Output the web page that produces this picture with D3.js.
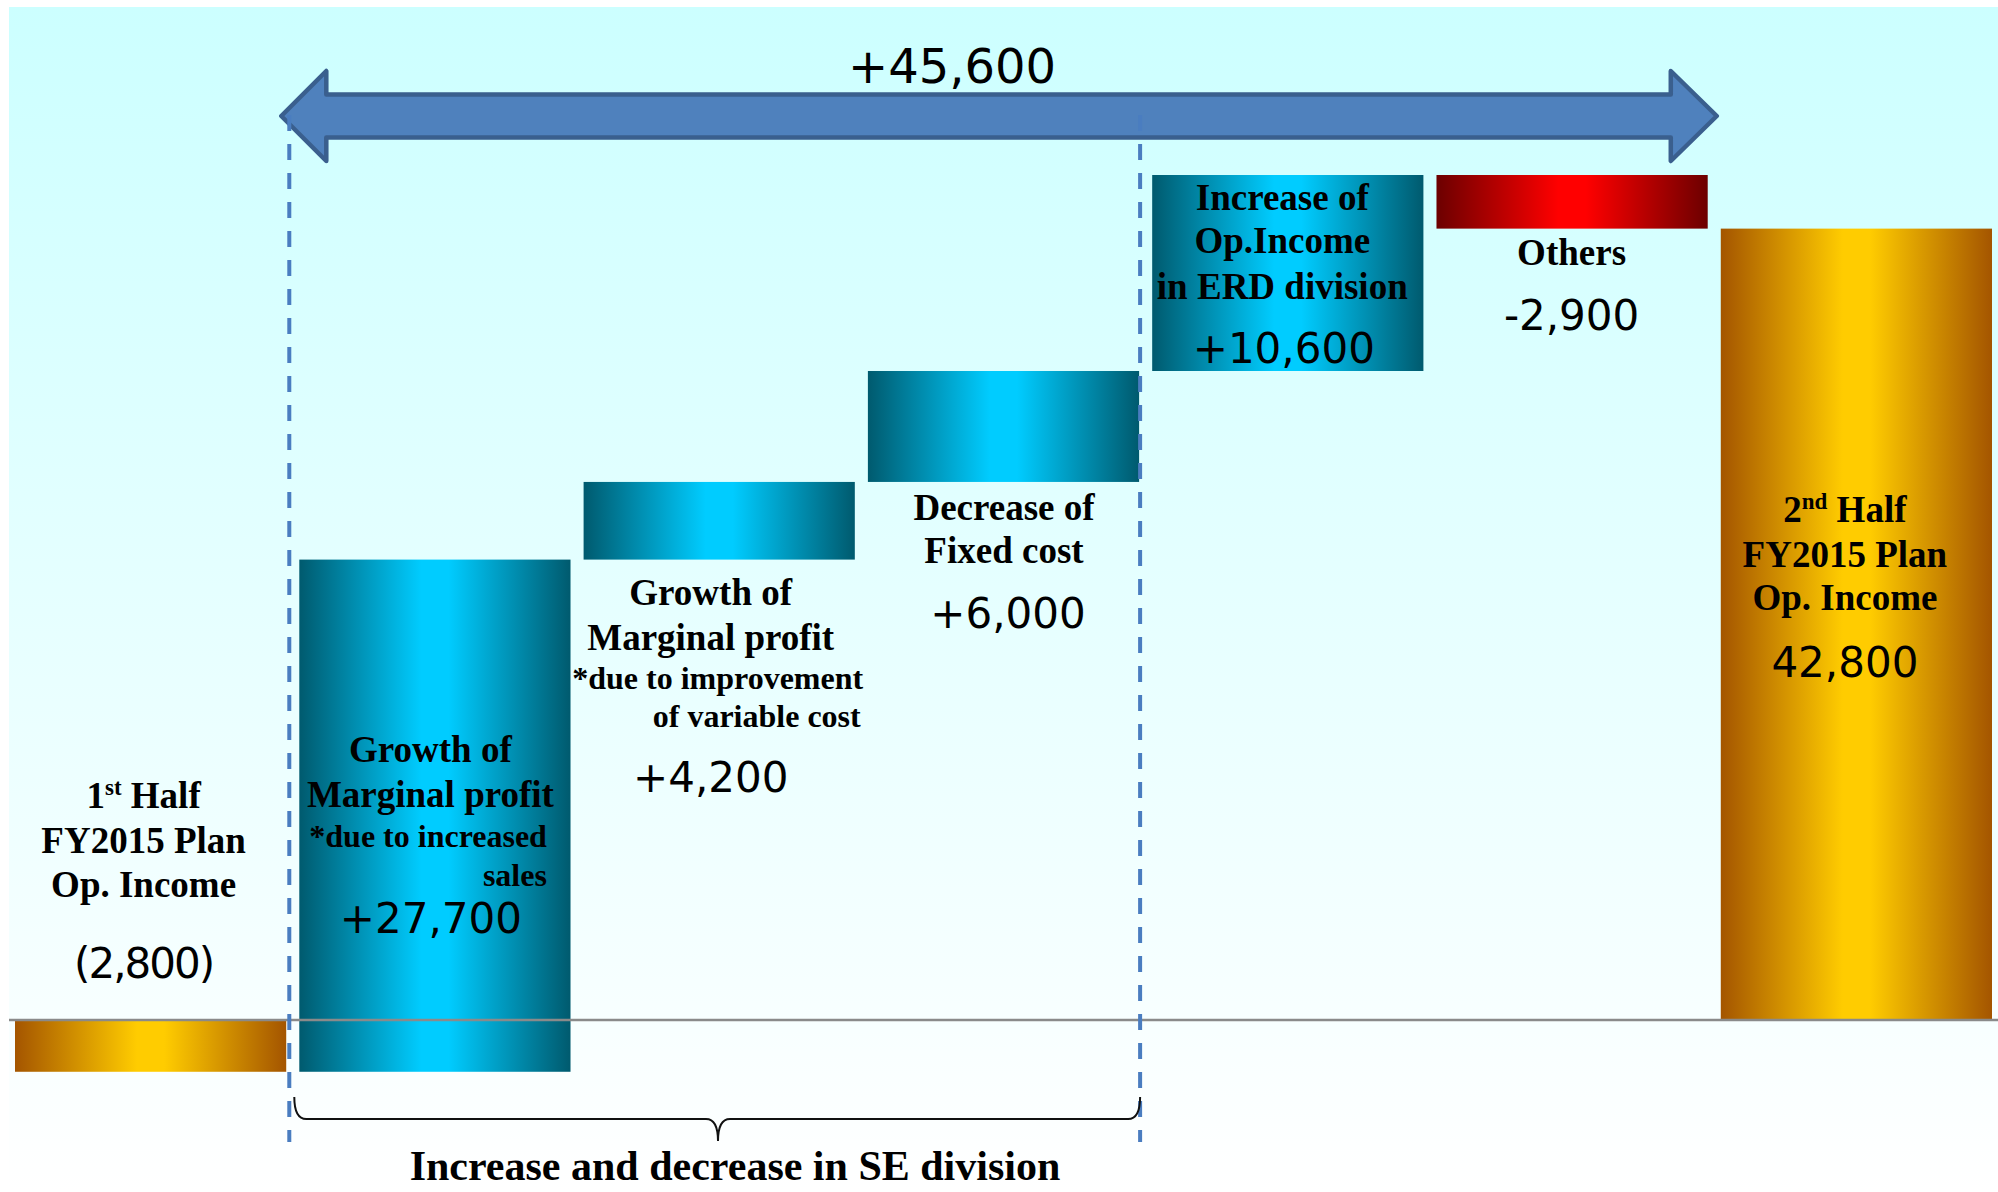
<!DOCTYPE html>
<html>
<head>
<meta charset="utf-8">
<script src="https://cdn.jsdelivr.net/npm/d3@7"></script>
<style>
  html, body { margin: 0; padding: 0; background: #ffffff; }
  svg { display: block; }
</style>
</head>
<body>
<svg id="chart" width="1998" height="1192"></svg>
<script>
// ---------------- data ----------------
const categories = [
  "1st Half FY2015 Plan Op. Income",
  "Growth of Marginal profit (increased sales)",
  "Growth of Marginal profit (variable cost)",
  "Decrease of Fixed cost",
  "Increase of Op.Income in ERD division",
  "Others",
  "2nd Half FY2015 Plan Op. Income"
];
const values = [-2800, 27700, 4200, 6000, 10600, -2900, 42800];
const barKinds = ["total", "delta", "delta", "delta", "delta", "delta", "total"];
const valueLabels = ["(2,800)", "+27,700", "+4,200", "+6,000", "+10,600", "-2,900", "42,800"];
const titleLines = [
  ["1st Half", "FY2015 Plan", "Op. Income"],
  ["Growth of", "Marginal profit"],
  ["Growth of", "Marginal profit"],
  ["Decrease of", "Fixed cost"],
  ["Increase of", "Op.Income", "in ERD division"],
  ["Others"],
  ["2nd Half", "FY2015 Plan", "Op. Income"]
];
const noteLines = [
  [],
  ["*due to increased", "sales"],
  ["*due to improvement", "of variable cost"],
  [], [], [], []
];
const spanTotal = 45600;
const spanLabel = "+45,600";
const bracketCaption = "Increase and decrease in SE division";

// ---------------- layout ----------------
const W = 1998, H = 1192;
const svg = d3.select("#chart");
const defs = svg.append("defs");

function hGrad(id, edge, mid) {
  const g = defs.append("linearGradient").attr("id", id)
    .attr("x1", "0%").attr("x2", "100%").attr("y1", "0%").attr("y2", "0%");
  [[0, edge], [0.45, mid], [0.55, mid], [1, edge]].forEach(([o, c]) =>
    g.append("stop").attr("offset", o).attr("stop-color", c));
}
hGrad("gCyan", "#005a6e", "#00ccff");
hGrad("gGold", "#a45500", "#ffcc00");
hGrad("gRed", "#6c0000", "#ff0000");

const bg = defs.append("linearGradient").attr("id", "gBg")
  .attr("x1", "0%").attr("x2", "0%").attr("y1", "0%").attr("y2", "100%");
bg.append("stop").attr("offset", 0).attr("stop-color", "#ccffff");
bg.append("stop").attr("offset", 1).attr("stop-color", "#ffffff");

svg.append("rect").attr("x", 9).attr("y", 7).attr("width", W - 9).attr("height", H - 7)
  .attr("fill", "url(#gBg)");

// scales
const x = d3.scaleBand().domain(categories).range([15, 1992]).paddingInner(0.046).paddingOuter(0);
const y = d3.scaleLinear().domain([0, 45700]).range([1020, 175]);

// waterfall computation
let running = 0;
const bars = categories.map((c, i) => {
  let start, end;
  if (barKinds[i] === "total") { start = 0; end = values[i]; }
  else { start = running; end = running + values[i]; }
  running = end;
  const fill = barKinds[i] === "total" ? "url(#gGold)" : (values[i] < 0 ? "url(#gRed)" : "url(#gCyan)");
  return { c, i, start, end, fill };
});

svg.append("g").selectAll("rect").data(bars).join("rect")
  .attr("x", d => x(d.c))
  .attr("width", x.bandwidth())
  .attr("y", d => y(Math.max(d.start, d.end)))
  .attr("height", d => Math.abs(y(d.start) - y(d.end)))
  .attr("fill", d => d.fill);

// zero baseline
svg.append("line").attr("x1", 9).attr("x2", W).attr("y1", y(0)).attr("y2", y(0))
  .attr("stroke", "#8a8a8a").attr("stroke-width", 2.5);

// span arrow
const leftDash = x(categories[1]) - 10;
const rightDash = x(categories[3]) + x.bandwidth() + 1;
const tipL = leftDash - 8, tipR = x(categories[6]) - 4;
const backL = tipL + 45, backR = tipR - 46;
const aMid = 116, headH = 45, shaftH = 21.5;
const arrowPts = [
  [tipL, aMid], [backL, aMid - headH], [backL, aMid - shaftH], [backR, aMid - shaftH],
  [backR, aMid - headH], [tipR, aMid], [backR, aMid + headH], [backR, aMid + shaftH],
  [backL, aMid + shaftH], [backL, aMid + headH]
];
svg.append("path").attr("d", d3.line()(arrowPts) + "Z")
  .attr("fill", "#4f81bd").attr("stroke", "#3a5f8e").attr("stroke-width", 4.5)
  .attr("stroke-linejoin", "round");

svg.append("text").attr("x", 952).attr("y", 83)
  .attr("text-anchor", "middle")
  .attr("font-family", "DejaVu Sans, sans-serif").attr("font-size", 48)
  .attr("fill", "#000").text(spanLabel);

// dashed guides
[leftDash, rightDash].forEach(xx => {
  svg.append("line").attr("x1", xx).attr("x2", xx).attr("y1", 115).attr("y2", 1142)
    .attr("stroke", "#4a7dc0").attr("stroke-width", 4).attr("stroke-dasharray", "16,13");
});

// bracket
const bL = leftDash + 5, bR = rightDash, bMid = 718, bTop = 1097, bY = 1119, bTip = 1141;
svg.append("path")
  .attr("d", `M${bL},${bTop} Q${bL},${bY} ${bL + 12},${bY} L${bMid - 12},${bY} Q${bMid},${bY} ${bMid},${bTip} ` +
             `Q${bMid},${bY} ${bMid + 12},${bY} L${bR - 12},${bY} Q${bR},${bY} ${bR},${bTop}`)
  .attr("fill", "none").attr("stroke", "#111").attr("stroke-width", 2);

svg.append("text").attr("x", 735).attr("y", 1180).attr("text-anchor", "middle")
  .attr("font-family", "Liberation Serif, Times New Roman, serif").attr("font-weight", "bold")
  .attr("font-size", 42).attr("fill", "#000").text(bracketCaption);

// ---------------- labels ----------------
const serif = "Liberation Serif, Times New Roman, serif";
const sans = "DejaVu Sans, sans-serif";
// per-bar label placement: offsets from band centre, baselines in px
const labelPos = [
  { tdx: -7,   tY: [808, 853, 897],  notes: [],                          vdx: -7,   vY: 978, ls: -2 },
  { tdx: -4.5, tY: [762, 807],       notes: [[112, 847, "end"], [112, 886, "end"]], vdx: -4,  vY: 933, ls: 0 },
  { tdx: -8.5, tY: [605, 650],       notes: [[-1.5, 689, "middle"], [141.5, 727, "end"]], vdx: -8.5, vY: 792, ls: 0 },
  { tdx: 0.5,  tY: [520, 563],       notes: [],                          vdx: 4.5,  vY: 628, ls: 0 },
  { tdx: -5.5, tY: [210, 253, 299],  notes: [],                          vdx: -4,   vY: 363, ls: 0 },
  { tdx: -0.5, tY: [265],            notes: [],                          vdx: -0.5, vY: 330, ls: 0 },
  { tdx: -11.5,tY: [522, 567, 610],  notes: [],                          vdx: -11.5,vY: 677, ls: 0 }
];

const lab = svg.append("g");
categories.forEach((c, i) => {
  const cx = x(c) + x.bandwidth() / 2;
  const p = labelPos[i];
  titleLines[i].forEach((line, k) => {
    const t = lab.append("text").attr("x", cx + p.tdx).attr("y", p.tY[k])
      .attr("text-anchor", "middle").attr("font-family", serif)
      .attr("font-weight", "bold").attr("font-size", 37).attr("fill", "#000");
    const m = line.match(/^(\d)(st|nd) (.*)$/);
    if (m) {
      t.append("tspan").text(m[1]);
      t.append("tspan").attr("font-size", 23).attr("dy", -13).text(m[2]);
      t.append("tspan").attr("dy", 13).text(" " + m[3]);
    } else {
      t.text(line);
    }
  });
  noteLines[i].forEach((line, k) => {
    const [dx, yy, anchor] = p.notes[k];
    lab.append("text").attr("x", cx + dx).attr("y", yy)
      .attr("text-anchor", anchor).attr("font-family", serif)
      .attr("font-weight", "bold").attr("font-size", 32).attr("fill", "#000").text(line);
  });
  lab.append("text").attr("x", cx + p.vdx).attr("y", p.vY)
    .attr("text-anchor", "middle").attr("font-family", sans)
    .attr("letter-spacing", p.ls)
    .attr("font-size", 42).attr("fill", "#000").text(valueLabels[i]);
});
</script>
</body>
</html>
